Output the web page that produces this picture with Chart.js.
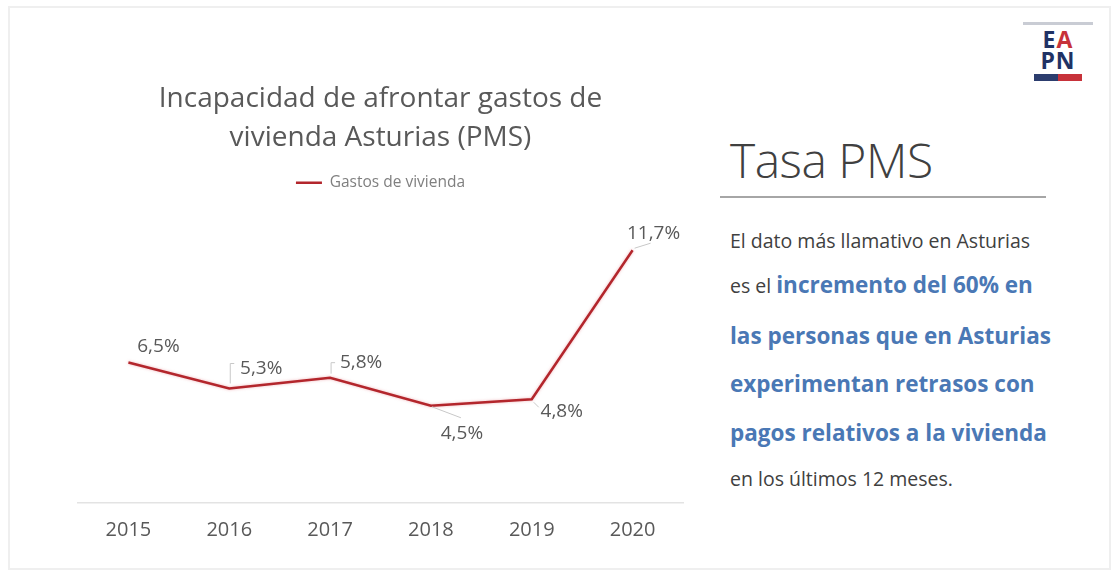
<!DOCTYPE html>
<html lang="es">
<head>
<meta charset="utf-8">
<title>Tasa PMS – Asturias</title>
<script src="https://cdn.jsdelivr.net/npm/chart.js@4.4.1/dist/chart.umd.min.js"></script>
<style>
  html, body { margin: 0; padding: 0; background: #fff; }
  body { width: 1117px; height: 577px; position: relative; overflow: hidden; font-family: 'Open Sans', sans-serif; }
  .frame { position: absolute; left: 8px; top: 6px; width: 1103px; height: 564px; border: 2px solid #efefef; box-sizing: border-box; }
  #chart-pms { position: absolute; left: 0; top: 0; }
  .logo { position: absolute; left: 1020px; top: 22px; width: 76px; text-align: center; }
  .logo .tiny { height: 3px; width: 70px; margin: 0 auto 4px; background: #c9ccd4; }
  .logo .word { font: 700 23px/21px 'Open Sans', sans-serif; color: #1f3264; letter-spacing: 1px; }
  .logo .word .a { color: #c7323a; }
  .logo .band { width: 48px; height: 7px; margin: 3px auto 0; background: linear-gradient(90deg, #2c3d6e 50%, #c7323a 50%); }
  .panel { position: absolute; left: 720px; top: 130px; width: 380px; color: #404040; }
  .panel h2 { margin: 0; font: 300 48px/60px 'Open Sans', sans-serif; color: #404040; padding-left: 10px; letter-spacing: -0.5px; }
  .panel hr { margin: 6px 0 0; border: 0; height: 2px; background: #a6a6a6; width: 326px; }
  .panel p { margin: 0; padding-left: 10px; position: absolute; line-height: 30px; white-space: nowrap; }
  .panel .small { font-size: 19.5px; font-weight: 400; }
  .panel .big { font-size: 22.5px; font-weight: 700; color: #4a78b5; }
</style>
</head>
<body>
<div class="frame"></div>
<canvas id="chart-pms" width="700" height="560"></canvas>

<div class="logo">
  <div class="tiny"></div>
  <div class="word">E<span class="a">A</span></div>
  <div class="word">PN</div>
  <div class="band"></div>
</div>

<div class="panel">
  <h2>Tasa PMS</h2>
  <hr>
  <p class="small" style="top:96px">El dato más llamativo en Asturias</p>
  <p class="small" style="top:140px">es el <span class="big">incremento del 60% en</span></p>
  <p class="big" style="top:191px">las personas que en Asturias</p>
  <p class="big" style="top:239px">experimentan retrasos con</p>
  <p class="big" style="top:288px">pagos relativos a la vivienda</p>
  <p class="small" style="top:334px">en los últimos 12 meses.</p>
</div>

<script>
// Datos: porcentaje de personas con retrasos en gastos de vivienda (Asturias)
const years  = ['2015', '2016', '2017', '2018', '2019', '2020'];
const gastos = [6.5, 5.3, 5.8, 4.5, 4.8, 11.7];
const seriesName = 'Gastos de vivienda';
const chartTitle = ['Incapacidad de afrontar gastos de', 'vivienda Asturias (PMS)'];

const grey = '#595959';
const red  = '#b3262c';

const fmtPct = v => v.toFixed(1).replace('.', ',') + '%';

// Etiquetas de valor estilo Excel, con líneas guía cortas
const valueLabels = {
  id: 'valueLabels',
  afterDatasetsDraw(chart, args, opts) {
    const { ctx } = chart;
    const meta = chart.getDatasetMeta(0);
    ctx.save();
    ctx.font = opts.font;
    ctx.fillStyle = opts.color;
    ctx.textAlign = 'center';
    ctx.textBaseline = 'middle';
    meta.data.forEach((pt, i) => {
      const p = opts.place[i];
      const v = chart.data.datasets[0].data[i];
      if (p.leader) {
        ctx.strokeStyle = opts.leaderColor;
        ctx.lineWidth = 1;
        ctx.beginPath();
        p.leader.forEach(([lx, ly], k) => {
          if (k === 0) ctx.moveTo(pt.x + lx, pt.y + ly);
          else ctx.lineTo(pt.x + lx, pt.y + ly);
        });
        ctx.stroke();
      }
      ctx.fillText(fmtPct(v), pt.x + p.dx, pt.y + p.dy);
    });
    ctx.restore();
  }
};

// Halo suave alrededor de la línea
const lineGlow = {
  id: 'lineGlow',
  beforeDatasetDraw(chart) {
    chart.ctx.save();
    chart.ctx.shadowColor = 'rgba(225, 120, 130, 0.55)';
    chart.ctx.shadowBlur = 3;
  },
  afterDatasetDraw(chart) {
    chart.ctx.restore();
  }
};

new Chart(document.getElementById('chart-pms'), {
  type: 'line',
  data: {
    labels: years,
    datasets: [{
      label: seriesName,
      data: gastos,
      borderColor: red,
      backgroundColor: red,
      borderWidth: 2.5,
      pointRadius: 0,
      tension: 0
    }]
  },
  options: {
    responsive: false,
    devicePixelRatio: 1,
    animation: false,
    layout: { padding: { left: 78, right: 17, top: 70, bottom: 7 } },
    scales: {
      x: {
        offset: true,
        grid: { display: false, drawTicks: false },
        border: { display: true, color: '#e3e3e3', width: 1.5 },
        ticks: { color: grey, font: { family: 'Open Sans', size: 20 }, padding: 15 },
        afterFit: s => { s.height = 50; }
      },
      y: { display: false, min: 0, max: 14 }
    },
    plugins: {
      title: {
        display: true,
        text: chartTitle,
        color: grey,
        font: { family: 'Open Sans', size: 28, weight: 'normal', lineHeight: 1.393 },
        padding: { top: 10, bottom: 0 }
      },
      legend: {
        labels: {
          color: '#7f7f7f',
          font: { family: 'Open Sans', size: 15.5 },
          usePointStyle: true,
          pointStyle: 'line',
          pointStyleWidth: 26,
          padding: 17
        }
      },
      tooltip: { enabled: false },
      valueLabels: {
        font: '19px "Open Sans"',
        color: grey,
        leaderColor: '#c8c8c8',
        place: [
          { dx: 30, dy: -16 },
          { dx: 32, dy: -20, leader: [[1, -5], [1, -25], [5, -25]] },
          { dx: 31, dy: -15, leader: [[1, -4], [1, -15], [5, -15]] },
          { dx: 31, dy: 28, leader: [[1, 1], [30, 12]] },
          { dx: 30, dy: 12, leader: [[2, 3], [7, 8]] },
          { dx: 21, dy: -17, leader: [[2, -2], [18, -7]] }
        ]
      }
    }
  },
  plugins: [valueLabels, lineGlow]
});
</script>
</body>
</html>
